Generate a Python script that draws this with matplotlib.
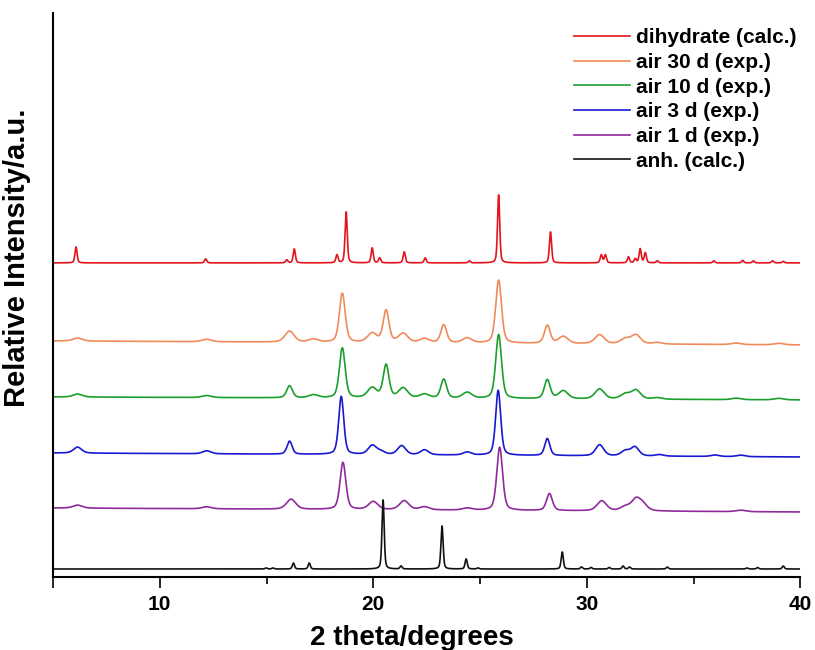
import numpy as np
import matplotlib.pyplot as plt

plt.rcParams['font.family'] = ['Liberation Sans', 'DejaVu Sans']

# === DATA (intensities in arbitrary units) ===
labels = ["dihydrate (calc.)", "air 30 d (exp.)", "air 10 d (exp.)",
          "air 3 d (exp.)", "air 1 d (exp.)", "anh. (calc.)"]
colors = ["#e3141c", "#f08a5a", "#1c9e2c", "#1818d2", "#8e2a9a", "#111111"]
offsets = [314, 236, 180, 124, 69, 8]
drift = [0, -4, -3, -4, -4, 0]      # baseline change from 5 to 40 degrees

# dihydrate (calc.)
dih_pos = [6.08, 12.15, 15.95, 16.3, 18.3, 18.73, 19.95, 20.3, 21.45, 22.43,
           24.5, 25.87, 28.3, 30.68, 30.87, 31.95, 32.27, 32.5, 32.74, 33.3,
           35.95, 37.3, 37.8, 38.7, 39.2]
dih_h = [16, 4, 3, 14, 8, 51, 15, 5, 11, 5,
         2, 68, 31, 8, 8, 6, 4, 14, 10, 2,
         2, 2.5, 2, 2, 1.5]
# air 30 d (exp.)
a30_pos = [6.15, 12.2, 16.08, 17.2, 18.55, 19.95, 20.6, 21.4, 22.4, 23.3,
           24.4, 25.87, 28.15, 28.9, 30.6, 31.8, 32.3, 33.3, 37.0, 39.0]
a30_h = [3, 2.5, 11, 3, 49, 9, 32, 9, 4, 18,
         5, 63, 18, 7, 9, 5, 9, 1.5, 1.5, 1.5]
# air 10 d (exp.)
a10_pos = a30_pos
a10_h = [3, 2, 12, 3, 50, 10, 33, 10, 4, 19,
         6, 64, 19, 8, 10, 5, 9, 1.5, 1.5, 1.5]
# air 3 d (exp.)
a3_pos = [6.15, 12.2, 16.08, 18.5, 19.95, 20.35, 21.33, 22.4, 24.4, 25.85,
          28.15, 30.6, 31.8, 32.25, 33.4, 36.0, 37.2]
a3_h = [6, 3, 13, 58, 9, 3, 9, 5, 3, 65,
        17, 11, 5, 9, 1.5, 1.5, 1.5]
# air 1 d (exp.)
a1_pos = [6.15, 12.2, 16.15, 18.58, 20.0, 21.45, 22.4, 24.4, 25.92, 28.25,
          30.7, 31.8, 32.3, 32.62, 37.2]
a1_h = [3, 2, 10, 47, 8, 9, 3, 2, 63, 17,
        10, 4, 11, 6, 1.5]
# anh. (calc.)
anh_pos = [14.98, 15.3, 16.26, 17.0, 20.46, 21.3, 23.22, 24.35, 24.9, 28.85,
           29.75, 30.2, 31.05, 31.7, 32.0, 33.77, 37.5, 38.0, 39.2]
anh_h = [1, 1, 6, 6, 69, 3, 43, 10, 1, 17,
         2, 1.5, 1.5, 3, 2, 2, 1, 1.5, 3]

peaks = [(dih_pos, dih_h), (a30_pos, a30_h), (a10_pos, a10_h),
         (a3_pos, a3_h), (a1_pos, a1_h), (anh_pos, anh_h)]
fwhm = [0.12, 0.32, 0.32, 0.28, 0.32, 0.12]


def pattern(x, pos, h, w):
    # pseudo-Voigt peaks
    y = np.zeros_like(x)
    for p, a in zip(pos, h):
        ww = w * 1.6 if a < 12 and w > 0.2 else w
        s, g = ww / 2.3548, ww / 2
        gauss = np.exp(-0.5 * ((x - p) / s) ** 2)
        lor = g ** 2 / ((x - p) ** 2 + g ** 2)
        y += a * (0.6 * gauss + 0.4 * lor)
    return y


x = np.linspace(5, 40, 7001)

fig = plt.figure(figsize=(8.15, 6.5), dpi=100)
ax = fig.add_axes([0.065, 0.1123, 0.917, 0.868])

for (pos, h), off, d, c, lab, w in zip(peaks, offsets, drift, colors, labels, fwhm):
    base = off + d * (x - 5) / 35
    ax.plot(x, base + pattern(x, pos, h, w), color=c, lw=1.2, label=lab)

ax.set_xlim(5, 40)
ax.set_ylim(0, 564)
ax.set_xticks([5, 10, 20, 30, 40])
ax.set_xticklabels(["", "10", "20", "30", "40"])
ax.set_xticks([15, 25, 35], minor=True)
ax.set_yticks([])
ax.tick_params(axis='x', which='major', direction='out', length=8, width=1.2,
               labelsize=15, pad=5)
ax.tick_params(axis='x', which='minor', direction='out', length=5, width=1.2)
for t in ax.get_xticklabels():
    t.set_fontweight('bold')
ax.spines['top'].set_visible(False)
ax.spines['right'].set_visible(False)
ax.spines['left'].set_linewidth(1.5)
ax.spines['bottom'].set_linewidth(1.5)

ax.set_xlabel("2 theta/degrees", fontsize=20, fontweight='bold')
ax.xaxis.set_label_coords(0.48, -0.085)
ax.set_ylabel("Relative Intensity/a.u.", fontsize=21, fontweight='bold')
ax.yaxis.set_label_coords(-0.029, 0.565)

leg = ax.legend(loc='upper right', bbox_to_anchor=(1.016, 1.0), frameon=False,
                handlelength=2.7, prop={'weight': 'bold', 'size': 15},
                labelspacing=0.27, borderaxespad=0.35, handletextpad=0.3)

plt.savefig("out.png", dpi=100)
